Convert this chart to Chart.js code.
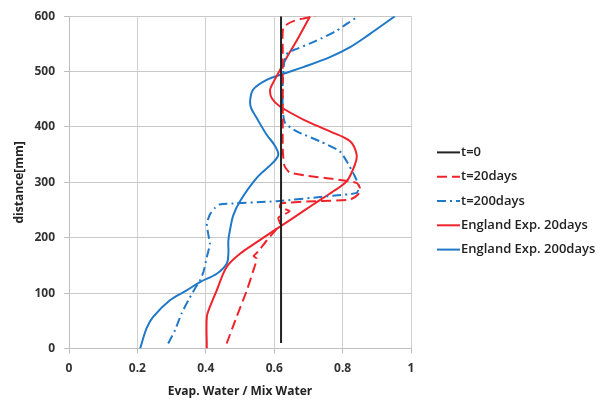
<!DOCTYPE html>
<html>
<head>
<meta charset="utf-8">
<script src="https://cdn.jsdelivr.net/npm/chart.js@4"></script>
<style>
  html, body { margin: 0; padding: 0; background: #fff; }
  #wrap { width: 606px; height: 402px; }
</style>
</head>
<body>
<div id="wrap"><canvas id="chart"></canvas></div>
<script>
// axis ticks
const xTicks = [0, 0.2, 0.4, 0.6, 0.8, 1];
const yTicks = [0, 100, 200, 300, 400, 500, 600];

// t=0
const t0Ratio = [0.62, 0.62];
const t0Dist = [10, 600];

// t=20days (dashed red)
const t20Ratio = [0.461, 0.49, 0.52, 0.539, 0.549, 0.54, 0.553, 0.578, 0.607, 0.617, 0.612, 0.645, 0.617, 0.62, 0.72, 0.822, 0.845, 0.851, 0.841, 0.773, 0.695, 0.645, 0.63, 0.625, 0.625, 0.625, 0.625, 0.627, 0.66, 0.72];
const t20Dist = [9, 57, 105, 141, 162, 167, 175, 195, 216, 226, 236, 248, 255, 262, 266, 269, 278, 289, 299, 306, 312, 318, 330, 360, 420, 480, 540, 580, 592, 600];

// t=200days (dash-dot blue)
const t200Ratio = [0.29, 0.31, 0.329, 0.349, 0.368, 0.383, 0.393, 0.403, 0.412, 0.407, 0.403, 0.412, 0.427, 0.44, 0.607, 0.773, 0.841, 0.848, 0.835, 0.812, 0.792, 0.734, 0.666, 0.632, 0.625, 0.625, 0.63, 0.641, 0.666, 0.724, 0.783, 0.812, 0.846];
const t200Dist = [9, 33, 63, 87, 108, 123, 138, 165, 189, 207, 225, 242, 254, 260, 266, 276, 281, 292, 312, 338, 356, 374, 392, 407, 430, 480, 520, 535, 541, 556, 574, 586, 600];

// England Exp. 20days (solid red)
const eng20Ratio = [0.403, 0.403, 0.412, 0.432, 0.461, 0.5, 0.549, 0.607, 0.656, 0.714, 0.773, 0.812, 0.836, 0.841, 0.822, 0.763, 0.69, 0.617, 0.593, 0.588, 0.597, 0.617, 0.637, 0.666, 0.705];
const eng20Dist = [0, 57, 75, 105, 147, 171, 192, 216, 236, 260, 284, 302, 332, 350, 374, 392, 412, 437, 452, 467, 480, 503, 526, 556, 600];

// England Exp. 200days (solid blue)
const eng200Ratio = [0.208, 0.227, 0.246, 0.295, 0.344, 0.383, 0.432, 0.461, 0.466, 0.466, 0.472, 0.48, 0.5, 0.549, 0.597, 0.612, 0.6, 0.578, 0.549, 0.532, 0.53, 0.539, 0.578, 0.627, 0.685, 0.763, 0.822, 0.88, 0.953];
const eng200Dist = [0, 37, 57, 87, 105, 120, 135, 153, 171, 195, 218, 240, 266, 308, 336, 350, 368, 386, 416, 435, 450, 468, 485, 496, 508, 526, 544, 568, 600];

const RED = '#f0232b';
const BLUE = '#1f78c8';

function pts(xs, ys) {
  return xs.map((x, i) => ({ x, y: ys[i] }));
}

function series(label, xs, ys, color, dash, tension) {
  return {
    label,
    data: pts(xs, ys),
    showLine: true,
    borderColor: color,
    backgroundColor: color,
    borderWidth: 2,
    borderDash: dash,
    pointRadius: 0,
    tension
  };
}

// legend drawn by hand so it sits like the original (short line + label)
const sideLegend = {
  id: 'sideLegend',
  afterDraw(chart) {
    const ctx = chart.ctx;
    const x0 = 437, step = 24.3, yMid = chart.height / 2;
    const sets = chart.data.datasets;
    const yStart = yMid - step * (sets.length - 1) / 2;
    ctx.save();
    ctx.font = '600 13px "Open Sans"';
    ctx.textBaseline = 'middle';
    sets.forEach((ds, i) => {
      const y = yStart + i * step;
      ctx.strokeStyle = ds.borderColor;
      ctx.lineWidth = 2;
      ctx.setLineDash(ds.borderDash || []);
      ctx.beginPath();
      ctx.moveTo(x0, y);
      ctx.lineTo(x0 + 23, y);
      ctx.stroke();
      ctx.fillStyle = '#222';
      ctx.fillText(ds.label, x0 + 24, y);
    });
    ctx.restore();
  }
};

const tickFont = { family: 'Open Sans', size: 12, weight: 'bold' };

new Chart(document.getElementById('chart'), {
  type: 'scatter',
  data: {
    datasets: [
      series('t=0', t0Ratio, t0Dist, '#222222', [], 0),
      series('t=20days', t20Ratio, t20Dist, RED, [10, 5], 0.2),
      series('t=200days', t200Ratio, t200Dist, BLUE, [9, 4, 2, 4], 0.2),
      series('England Exp. 20days', eng20Ratio, eng20Dist, RED, [], 0.35),
      series('England Exp. 200days', eng200Ratio, eng200Dist, BLUE, [], 0.35)
    ]
  },
  plugins: [sideLegend],
  options: {
    responsive: true,
    maintainAspectRatio: false,
    animation: false,
    layout: { padding: { top: 14, right: 195, bottom: 0, left: 0 } },
    plugins: {
      tooltip: { enabled: false },
      legend: { display: false }
    },
    scales: {
      x: {
        type: 'linear',
        min: 0,
        max: 1,
        afterBuildTicks: s => { s.ticks = xTicks.map(v => ({ value: v })); },
        afterFit: s => { s.height = 53.5; },
        ticks: { color: '#333', font: tickFont, padding: 8, callback: v => String(v) },
        grid: { color: '#d0d0d0', tickLength: 5, tickColor: '#bfbfbf' },
        border: { color: '#bfbfbf' },
        title: {
          display: true,
          text: 'Evap. Water / Mix Water',
          color: '#222',
          font: tickFont,
          padding: { top: 0, bottom: 3 }
        }
      },
      y: {
        type: 'linear',
        min: 0,
        max: 600,
        afterBuildTicks: s => { s.ticks = yTicks.map(v => ({ value: v })); },
        afterFit: s => { s.width = 69; },
        ticks: { color: '#333', font: tickFont, padding: 9 },
        grid: { color: '#c8c8c8', tickLength: 5, tickColor: '#bfbfbf' },
        border: { color: '#bfbfbf' },
        title: {
          display: true,
          text: 'distance[mm]',
          color: '#222',
          font: tickFont,
          padding: { top: 12, bottom: 0 }
        }
      }
    }
  }
});
</script>
</body>
</html>
